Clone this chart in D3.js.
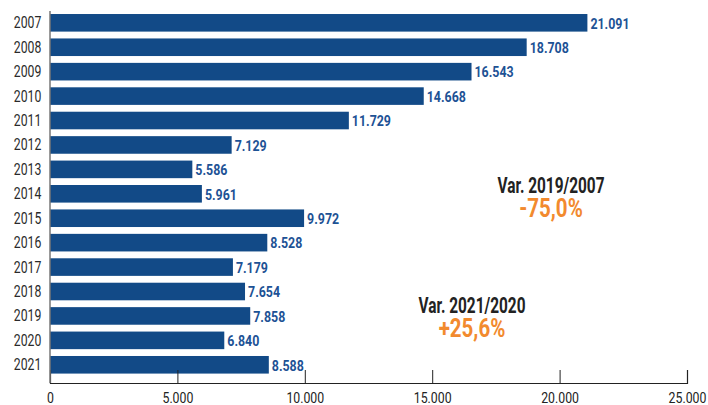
<!DOCTYPE html>
<html>
<head>
<meta charset="utf-8">
<script src="https://cdn.jsdelivr.net/npm/d3@7"></script>
<style>
  body { margin: 0; background: #fff; }
  text { font-family: Roboto, "DejaVu Sans Condensed", sans-serif; }
</style>
</head>
<body>
<div id="chart"></div>
<script>
// data
const years = ["2007", "2008", "2009", "2010", "2011", "2012", "2013", "2014",
               "2015", "2016", "2017", "2018", "2019", "2020", "2021"];
const values = [21091, 18708, 16543, 14668, 11729, 7129, 5586, 5961,
                9972, 8528, 7179, 7654, 7858, 6840, 8588];
const xTicks = [0, 5000, 10000, 15000, 20000, 25000];
const noteTitles = ["Var. 2019/2007", "Var. 2021/2020"];
const noteValues = ["-75,0%", "+25,6%"];

let width = 708, height = 405;
let mLeft = 50, mRight = 687, mTop = 10.6, mBottom = 377;

let svg = d3.select("#chart").append("svg")
    .attr("width", width)
    .attr("height", height);

let x = d3.scaleLinear().domain([0, 25000]).range([mLeft, mRight]);
let y = d3.scaleBand().domain(years).range([mTop, mBottom])
    .paddingInner(0.28).paddingOuter(0.14);

// thousands with a dot
let fmt = d3.formatLocale({ decimal: ",", thousands: ".", grouping: [3], currency: ["", "€"] }).format(",");

// bars
svg.selectAll(".bar")
    .data(values)
    .enter().append("rect")
    .attr("class", "bar")
    .attr("x", x(0))
    .attr("y", (d, i) => y(years[i]))
    .attr("width", d => x(d) - x(0))
    .attr("height", y.bandwidth())
    .style("fill", "#124a87");

// value labels (squeezed, the original font is a condensed one)
svg.selectAll(".val")
    .data(values)
    .enter().append("text")
    .attr("class", "val")
    .attr("transform", (d, i) => "translate(" + (x(d) + 3) + "," + (y(years[i]) + y.bandwidth() / 2) + ") scale(0.8,1)")
    .attr("dy", "0.37em")
    .style("font-size", "15.5px")
    .style("font-weight", "bold")
    .style("fill", "#1d5295")
    .text(d => fmt(d));

// x axis, ticks pointing up
let xAxis = d3.axisBottom(x).tickValues(xTicks).tickSize(-13).tickPadding(9).tickFormat(fmt);
let gx = svg.append("g")
    .attr("transform", "translate(0," + (mBottom + 6) + ")")
    .call(xAxis);
gx.select(".domain").attr("stroke", "#222").attr("stroke-width", 1.2);
gx.selectAll(".tick line").attr("stroke", "#222");
gx.selectAll(".tick text")
    .attr("transform", "scale(0.82,1)")
    .style("font-size", "15px")
    .style("fill", "#222");

// y axis (line + year labels)
let yAxis = d3.axisLeft(y).tickSize(0).tickPadding(12);
let gy = svg.append("g")
    .attr("transform", "translate(" + mLeft + ",0)")
    .call(yAxis);
gy.select(".domain").attr("stroke", "#777").attr("stroke-width", 1.5)
    .attr("d", "M0," + (mTop + 0.5) + "V" + (mBottom + 6));
gy.selectAll(".tick text")
    .attr("transform", "scale(0.72,1)")
    .style("font-size", "17px")
    .style("fill", "#2a2a2a");

// annotations
let noteX = [551, 472];
let noteY = [192.5, 312.5];
let note = svg.selectAll(".note")
    .data(noteTitles)
    .enter().append("g")
    .attr("class", "note");
note.append("text")
    .attr("transform", (d, i) => "translate(" + noteX[i] + "," + noteY[i] + ") scale(0.7,1)")
    .attr("text-anchor", "middle")
    .style("font-size", "22px")
    .style("font-weight", "bold")
    .style("fill", "#222")
    .text(d => d);
note.append("text")
    .attr("transform", (d, i) => "translate(" + noteX[i] + "," + (noteY[i] + 24.5) + ") scale(0.82,1)")
    .attr("text-anchor", "middle")
    .style("font-size", "25px")
    .style("font-weight", "bold")
    .style("fill", "#f28a2e")
    .text((d, i) => noteValues[i]);
</script>
</body>
</html>
